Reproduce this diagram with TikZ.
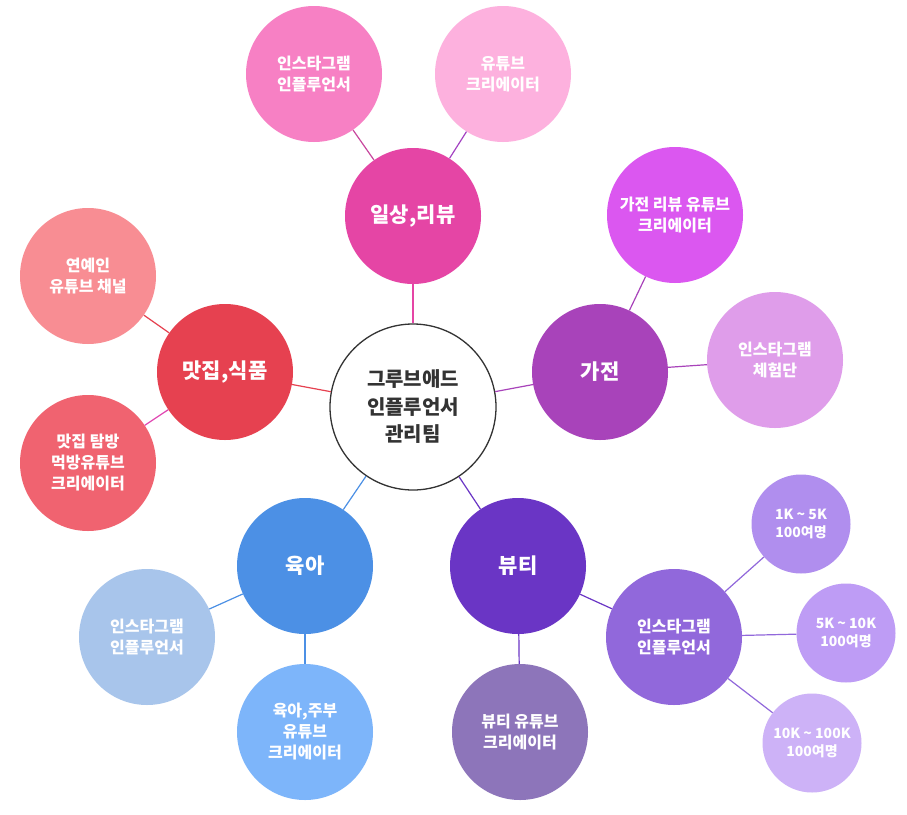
\documentclass[tikz,border=0pt]{standalone}
\usepackage{fontspec}
\setmainfont{Noto Sans CJK KR}[BoldFont={Noto Sans CJK KR Black}]
\definecolor{cDaily}{HTML}{E545A5}
\definecolor{cDailyA}{HTML}{F780C4}
\definecolor{cDailyB}{HTML}{FDB1DE}
\definecolor{cDailyLA}{HTML}{C8479E}
\definecolor{cDailyLB}{HTML}{A443C2}
\definecolor{cHome}{HTML}{A843BA}
\definecolor{cHomeA}{HTML}{DB57F0}
\definecolor{cHomeB}{HTML}{DF9DEA}
\definecolor{cFood}{HTML}{E64150}
\definecolor{cFoodA}{HTML}{F88D93}
\definecolor{cFoodB}{HTML}{F06370}
\definecolor{cFoodLB}{HTML}{E043B0}
\definecolor{cKid}{HTML}{4C90E5}
\definecolor{cKidA}{HTML}{A8C5EB}
\definecolor{cKidB}{HTML}{7DB5FA}
\definecolor{cBeauty}{HTML}{6A35C5}
\definecolor{cBeautyA}{HTML}{8D75BA}
\definecolor{cBeautyB}{HTML}{9168DB}
\definecolor{cK1}{HTML}{B08EEE}
\definecolor{cK2}{HTML}{BE9CF5}
\definecolor{cK3}{HTML}{CDB2F7}
\definecolor{cInk}{HTML}{333333}
\begin{document}
\begin{tikzpicture}[x=1pt,y=-1pt,
  bubble/.style={circle,inner sep=0pt,minimum size=136pt,align=center,text=white,font=\bfseries\fontsize{16}{21}\selectfont},
  hub/.style={bubble,font=\bfseries\fontsize{21}{24}\selectfont},
  small/.style={bubble,minimum size=99pt,font=\bfseries\fontsize{14}{18}\selectfont},
  link/.style={line width=1.2pt}]
\useasboundingbox[fill=white] (0,0) rectangle (907,814);
% center
\node[circle,draw=cInk,line width=1.3pt,fill=white,minimum size=166pt,inner sep=0pt,align=center,text=cInk,font=\bfseries\fontsize{20}{27.5}\selectfont] (center) at (413,407) {그루브애드\\인플루언서\\관리팀};
% hubs
\node[hub,fill=cDaily] (daily) at (413,216) {일상,리뷰};
\node[hub,fill=cHome] (home) at (600,372) {가전};
\node[hub,fill=cFood] (food) at (225,372) {맛집,식품};
\node[hub,fill=cKid] (kid) at (305,566) {육아};
\node[hub,fill=cBeauty] (beauty) at (518,566) {뷰티};
% leaves
\node[bubble,fill=cDailyA] (dA) at (314,74) {인스타그램\\인플루언서};
\node[bubble,fill=cDailyB] (dB) at (503,74) {유튜브\\크리에이터};
\node[bubble,fill=cHomeA] (hA) at (675,215) {가전 리뷰 유튜브\\크리에이터};
\node[bubble,fill=cHomeB] (hB) at (775,360) {인스타그램\\체험단};
\node[bubble,fill=cFoodA] (fA) at (88,276) {연예인\\유튜브 채널};
\node[bubble,fill=cFoodB] (fB) at (88,463) {맛집 탐방\\먹방유튜브\\크리에이터};
\node[bubble,fill=cKidA] (kA) at (147,637) {인스타그램\\인플루언서};
\node[bubble,fill=cKidB] (kB) at (305,732) {육아,주부\\유튜브\\크리에이터};
\node[bubble,fill=cBeautyA] (bA) at (520,732) {뷰티 유튜브\\크리에이터};
\node[bubble,fill=cBeautyB] (bB) at (674,637) {인스타그램\\인플루언서};
\node[small,fill=cK1] (k1) at (801,524) {1K \textasciitilde{} 5K\\100여명};
\node[small,fill=cK2] (k2) at (846,633) {5K \textasciitilde{} 10K\\100여명};
\node[small,fill=cK3] (k3) at (812,743) {10K \textasciitilde{} 100K\\100여명};
% links
\draw[link,cDaily] (daily) -- (center);
\draw[link,cDailyLA] (dA) -- (daily);
\draw[link,cDailyLB] (dB) -- (daily);
\draw[link,cHome] (home) -- (center);
\draw[link,cHome] (hA) -- (home);
\draw[link,cHome] (hB) -- (home);
\draw[link,cFood] (food) -- (center);
\draw[link,cFood] (fA) -- (food);
\draw[link,cFoodLB] (fB) -- (food);
\draw[link,cKid] (kid) -- (center);
\draw[link,cKid] (kA) -- (kid);
\draw[link,cKid] (kB) -- (kid);
\draw[link,cBeauty] (beauty) -- (center);
\draw[link,cBeauty] (bA) -- (beauty);
\draw[link,cBeauty] (bB) -- (beauty);
\draw[link,cBeautyB] (k1) -- (bB);
\draw[link,cBeautyB] (k2) -- (bB);
\draw[link,cBeautyB] (k3) -- (bB);
\end{tikzpicture}
\end{document}
